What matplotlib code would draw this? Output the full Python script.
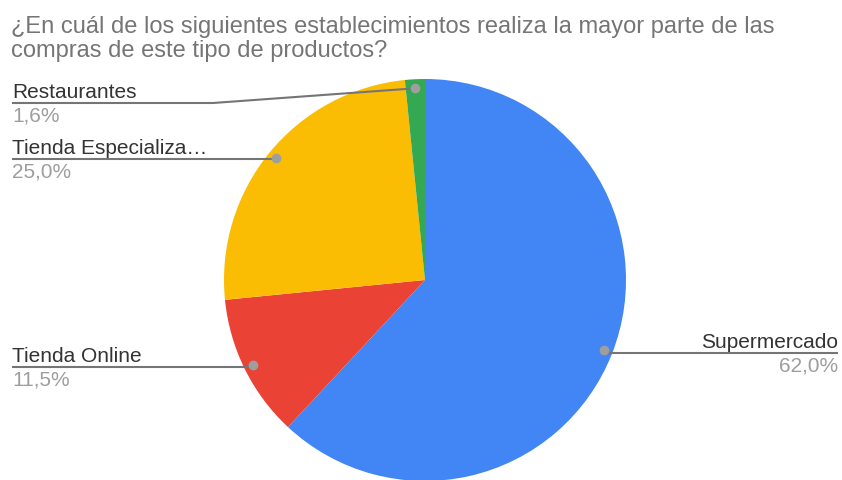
import numpy as np
import matplotlib.pyplot as plt

plt.rcParams['font.family'] = ['Liberation Sans', 'DejaVu Sans']

titulo = ['¿En cuál de los siguientes establecimientos realiza la mayor parte de las',
          'compras de este tipo de productos?']
categorias = ['Supermercado', 'Tienda Online', 'Tienda Especializada', 'Restaurantes']
etiquetas = ['Supermercado', 'Tienda Online', 'Tienda Especializa…', 'Restaurantes']
valores = [62.0, 11.5, 25.0, 1.6]
colores = ['#4285F4', '#EA4335', '#FBBC04', '#34A853']

W, H = 842, 481
fig = plt.figure(figsize=(W / 100, H / 100), dpi=100)
ax = fig.add_axes([0, 0, 1, 1])

cx, cy, R = 425, H - 281, 201
wedges, _ = ax.pie(valores, colors=colores, startangle=90, counterclock=False,
                   center=(cx, cy), radius=R, frame=True,
                   wedgeprops=dict(linewidth=0))
ax.set_xlim(0, W)
ax.set_ylim(0, H)
ax.set_aspect('equal')
ax.axis('off')

# titulo en dos lineas (baseline en pixeles)
for linea, yb in zip(titulo, [33, 57]):
    ax.text(11, H - yb, linea, fontsize=17, color='#757575',
            va='baseline', ha='left')

# posicion de la etiqueta: (y de la linea en pixeles, lado)
pos = {'Supermercado': (354, 'right'),
       'Tienda Online': (368, 'left'),
       'Tienda Especializada': (160, 'left'),
       'Restaurantes': (104, 'left')}

for w, cat, lab, v in zip(wedges, categorias, etiquetas, valores):
    ang = np.deg2rad((w.theta1 + w.theta2) / 2)
    dx = cx + 0.955 * R * np.cos(ang)
    dy = cy + 0.955 * R * np.sin(ang)
    ly, side = pos[cat]
    ly = H - ly
    pct = f'{v:.1f}%'.replace('.', ',')
    if side == 'left':
        tx = 12
        if abs(dy - ly) > 3:
            xs, ys = [tx, 213, dx], [ly, ly, dy]
        else:
            xs, ys = [tx, dx], [ly, ly]
        ha = 'left'
    else:
        tx = 838
        xs, ys = [dx, tx], [ly, ly]
        ha = 'right'
    ax.plot(xs, ys, color='#757575', lw=1.5, solid_capstyle='butt', zorder=3)
    ax.plot(dx, dy, 'o', color='#9e9e9e', ms=6, zorder=4)
    ax.text(tx, ly + 6, lab, ha=ha, va='baseline', fontsize=15, color='#333333')
    ax.text(tx, ly - 18, pct, ha=ha, va='baseline', fontsize=15, color='#9e9e9e')

fig.savefig('out.png', dpi=100)
